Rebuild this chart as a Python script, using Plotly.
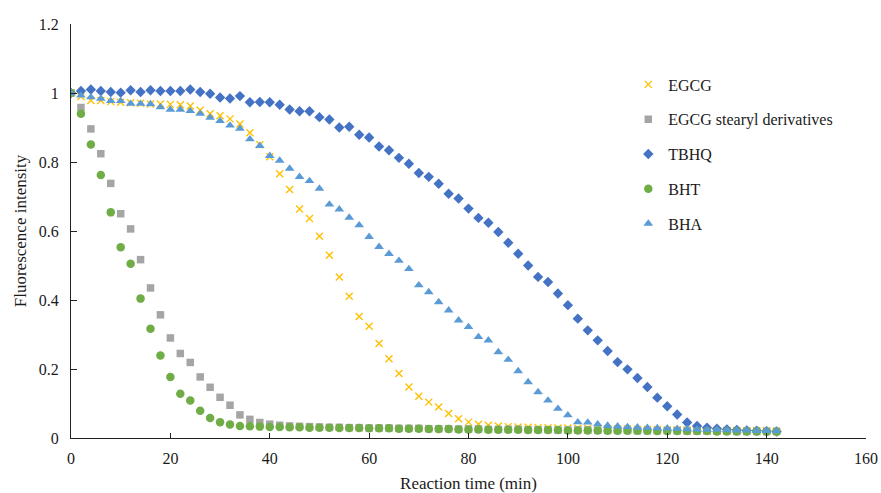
import plotly.graph_objects as go

time_min = list(range(0, 144, 2))

egcg = [1.0, 0.99, 0.978, 0.978, 0.975, 0.973, 0.972, 0.97, 0.968, 0.968,
        0.967, 0.966, 0.962, 0.95, 0.94, 0.934, 0.925, 0.91, 0.885, 0.85,
        0.815, 0.766, 0.72, 0.664, 0.636, 0.585, 0.53, 0.467, 0.411, 0.352,
        0.324, 0.274, 0.23, 0.187, 0.148, 0.121, 0.104, 0.09, 0.071, 0.056,
        0.046, 0.04, 0.037, 0.035, 0.033, 0.032, 0.031, 0.03, 0.03, 0.029,
        0.029, 0.028, 0.028, 0.027, 0.027, 0.026, 0.026, 0.025, 0.025, 0.025,
        0.024, 0.024, 0.023, 0.023, 0.023, 0.022, 0.022, 0.022, 0.021, 0.021,
        0.021, 0.02]

egcg_stearyl = [1.0, 0.958, 0.896, 0.824, 0.738, 0.65, 0.606, 0.517, 0.435, 0.357,
                0.29, 0.245, 0.219, 0.177, 0.147, 0.118, 0.095, 0.067, 0.054, 0.045,
                0.04, 0.037, 0.035, 0.034, 0.033, 0.032, 0.031, 0.031, 0.03, 0.03,
                0.029, 0.029, 0.029, 0.028, 0.028, 0.028, 0.027, 0.027, 0.027, 0.026,
                0.026, 0.026, 0.025, 0.025, 0.025, 0.025, 0.024, 0.024, 0.024, 0.023,
                0.023, 0.023, 0.023, 0.022, 0.022, 0.022, 0.022, 0.021, 0.021, 0.021,
                0.021, 0.021, 0.02, 0.02, 0.02, 0.02, 0.02, 0.019, 0.019, 0.019,
                0.019, 0.019]

tbhq = [1.0, 1.006, 1.01, 1.006, 1.003, 1.001, 1.008, 1.003, 1.008, 1.006,
        1.006, 1.006, 1.01, 1.003, 0.998, 0.987, 0.984, 0.991, 0.973, 0.974,
        0.973, 0.966, 0.952, 0.947, 0.947, 0.93, 0.923, 0.9, 0.902, 0.879,
        0.871, 0.845, 0.834, 0.812, 0.795, 0.768, 0.757, 0.737, 0.708, 0.694,
        0.665, 0.638, 0.624, 0.597, 0.566, 0.534, 0.5, 0.467, 0.452, 0.419,
        0.385, 0.346, 0.312, 0.283, 0.252, 0.22, 0.199, 0.174, 0.148, 0.117,
        0.092, 0.068, 0.045, 0.035, 0.03, 0.027, 0.025, 0.023, 0.022, 0.021,
        0.02, 0.019]

bht = [1.0, 0.94, 0.851, 0.762, 0.654, 0.553, 0.505, 0.404, 0.317, 0.239,
       0.177, 0.128, 0.109, 0.079, 0.058, 0.046, 0.039, 0.035, 0.034, 0.033,
       0.032, 0.032, 0.031, 0.031, 0.03, 0.03, 0.03, 0.029, 0.029, 0.029,
       0.028, 0.028, 0.028, 0.027, 0.027, 0.027, 0.026, 0.026, 0.026, 0.025,
       0.025, 0.025, 0.024, 0.024, 0.024, 0.024, 0.023, 0.023, 0.023, 0.023,
       0.022, 0.022, 0.022, 0.022, 0.021, 0.021, 0.021, 0.021, 0.021, 0.02,
       0.02, 0.02, 0.02, 0.02, 0.02, 0.019, 0.019, 0.019, 0.019, 0.019,
       0.018, 0.018]

bha = [1.0, 0.993, 0.988, 0.984, 0.977, 0.977, 0.969, 0.969, 0.968, 0.959,
       0.952, 0.952, 0.948, 0.94, 0.929, 0.919, 0.906, 0.897, 0.866, 0.847,
       0.818, 0.804, 0.781, 0.757, 0.745, 0.723, 0.677, 0.663, 0.639, 0.617,
       0.583, 0.554, 0.534, 0.514, 0.49, 0.443, 0.423, 0.394, 0.37, 0.341,
       0.322, 0.293, 0.283, 0.249, 0.227, 0.194, 0.162, 0.133, 0.109, 0.085,
       0.066, 0.046, 0.045, 0.04, 0.036, 0.034, 0.032, 0.031, 0.03, 0.029,
       0.028, 0.027, 0.026, 0.025, 0.024, 0.024, 0.023, 0.022, 0.022, 0.021,
       0.021, 0.02]

series_names = ["EGCG", "EGCG stearyl derivatives", "TBHQ", "BHT", "BHA"]
series_values = [egcg, egcg_stearyl, tbhq, bht, bha]
series_colors = ["#FFC000", "#A5A5A5", "#4472C4", "#70AD47", "#5B9BD5"]
series_symbols = ["x-thin", "square", "diamond", "circle", "triangle-up"]
series_sizes = [7, 7.5, 8, 8.5, 8.5]

FONT = "Liberation Serif, Times New Roman, serif"
TXT = "#1a1a1a"

fig = go.Figure()
for i, (name, vals, col, sym, sz) in enumerate(
        zip(series_names, series_values, series_colors, series_symbols, series_sizes)):
    marker = dict(symbol=sym, size=sz, color=col)
    if sym == "x-thin":
        marker["line"] = dict(color=col, width=1.4)
    else:
        marker["line"] = dict(width=0)
    fig.add_trace(go.Scatter(
        x=time_min, y=vals, mode="markers", name=name,
        legendgroup=f"g{i}", marker=marker,
    ))

fig.update_layout(
    width=881, height=493,
    margin=dict(l=71, r=15, t=24, b=55),
    paper_bgcolor="white", plot_bgcolor="white",
    font=dict(family=FONT, size=16, color=TXT),
    showlegend=True,
    legend=dict(
        x=0.701, y=0.895, xanchor="left", yanchor="top",
        font=dict(family=FONT, size=16, color=TXT),
        tracegroupgap=11, bgcolor="rgba(0,0,0,0)",
    ),
    xaxis=dict(
        range=[0, 160], tickvals=[0, 20, 40, 60, 80, 100, 120, 140, 160],
        showgrid=False, zeroline=False, showline=True, linecolor="#222",
        linewidth=1, ticks="inside", ticklen=5, tickcolor="#222",
        ticklabelstandoff=6, automargin=False,
        title=dict(text="Reaction time (min)", font=dict(family=FONT, size=17, color=TXT), standoff=20),
        tickfont=dict(family=FONT, size=16, color=TXT),
    ),
    yaxis=dict(
        range=[0, 1.2], tickvals=[0, 0.2, 0.4, 0.6, 0.8, 1.0, 1.2],
        ticktext=["0", "0.2", "0.4", "0.6", "0.8", "1", "1.2"],
        showgrid=False, zeroline=False, showline=True, linecolor="#222",
        linewidth=1, ticks="inside", ticklen=6, tickcolor="#222",
        ticklabelstandoff=8, automargin=False,
        title=dict(text="Fluorescence intensity", font=dict(family=FONT, size=17, color=TXT), standoff=7),
        tickfont=dict(family=FONT, size=16, color=TXT),
    ),
)

fig.write_html("out.html")
